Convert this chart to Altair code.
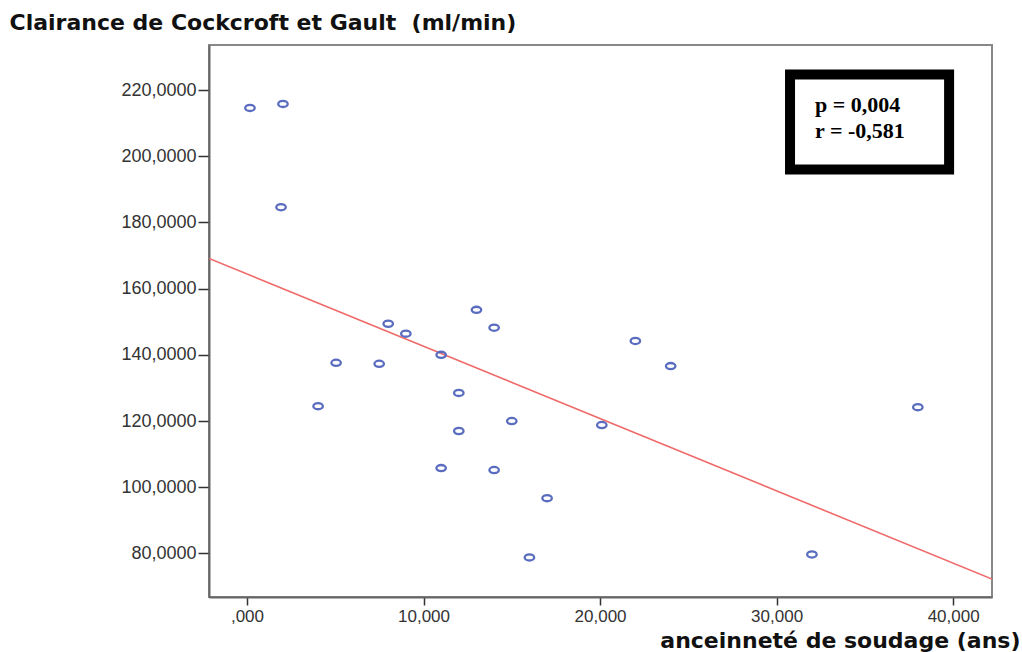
import altair as alt
import pandas as pd

# Data
anciennete = [0.17, 2.04, 1.93, 4.03, 5.05, 7.49, 8.0, 9.0, 11.0, 13.0, 14.0, 12.0,
              12.0, 11.0, 14.0, 15.0, 17.0, 16.0, 20.1, 22.0, 24.0, 32.0, 38.0]
clairance = [214.6, 215.8, 184.6, 124.5, 137.6, 137.3, 149.4, 146.4, 140.0, 153.6,
             148.2, 128.5, 117.0, 105.8, 105.2, 120.0, 96.7, 78.8, 118.8, 144.2,
             136.6, 79.7, 124.2]
x_ticks = [0, 10, 20, 30, 40]
y_ticks = [80, 100, 120, 140, 160, 180, 200, 220]
stats_lines = ["p = 0,004", "r = -0,581"]

# annotation box (data coordinates)
box_x = [30.76]
box_x2 = [39.77]
box_y = [224.7]
box_y2 = [195.96]
text_x = [32.18, 32.18]
text_y = [213.3, 205.4]

X_DOMAIN = [-2.15, 42.2]
Y_DOMAIN = [66.85, 233.6]

df = pd.DataFrame({"x": anciennete, "y": clairance})
box_df = pd.DataFrame({"x": box_x, "x2": box_x2, "y": box_y, "y2": box_y2})
txt_df = pd.DataFrame({"x": text_x, "y": text_y, "label": stats_lines})

xscale = alt.Scale(domain=X_DOMAIN, nice=False, zero=False)
yscale = alt.Scale(domain=Y_DOMAIN, nice=False, zero=False)

x_axis = alt.Axis(
    values=x_ticks,
    labelExpr="datum.value == 0 ? ',000' : replace(format(datum.value, '.3f'), '.', ',')",
    labelFont="Liberation Sans", labelFontSize=17, labelColor="#333",
    labelPadding=3,
    tickSize=8, tickColor="#333", tickWidth=1.5,
    domainColor="#666", domainWidth=2, grid=False,
    title="anceinneté de soudage (ans)",
    titleFont="DejaVu Sans", titleFontWeight="bold", titleFontSize=22,
    titleColor="#111", titleX=811, titleY=50, titleAlign="right",
    titleBaseline="alphabetic", titleAnchor="end",
)
y_axis = alt.Axis(
    values=y_ticks,
    labelExpr="replace(format(datum.value, '.4f'), '.', ',')",
    labelFont="Liberation Sans", labelFontSize=18, labelColor="#333",
    labelPadding=2,
    tickSize=11, tickColor="#333", tickWidth=1.5,
    domainColor="#666", domainWidth=2, grid=False,
    title="Clairance de Cockcroft et Gault\u00a0 (ml/min)",
    titleFont="DejaVu Sans", titleFontWeight="bold", titleFontSize=22,
    titleColor="#111", titleAngle=0, titleX=-200, titleY=-16,
    titleAlign="left", titleBaseline="alphabetic",
)

X = alt.X("x:Q", scale=xscale, axis=x_axis)
Y = alt.Y("y:Q", scale=yscale, axis=y_axis)

base = alt.Chart(df)

reg = base.transform_regression("x", "y", extent=X_DOMAIN).mark_line(
    color="#f06a6a", strokeWidth=1.6, clip=True
).encode(x=X, y=Y)

points = base.mark_point(
    shape="M -1 0 A 1 0.65 0 1 0 1 0 A 1 0.65 0 1 0 -1 0 Z",
    filled=False, size=90, strokeWidth=2.3, color="#5a6cbf", opacity=1
).encode(x=X, y=Y)

box = alt.Chart(box_df).mark_rect(
    fill="white", stroke="black", strokeWidth=10
).encode(x=X, x2="x2:Q", y=Y, y2="y2:Q")

text = alt.Chart(txt_df).mark_text(
    align="left", baseline="alphabetic", font="Liberation Serif",
    fontWeight="bold", fontSize=22, color="black"
).encode(x=X, y=Y, text="label:N")

chart = alt.layer(reg, points, box, text).properties(
    width=783, height=552,
    padding={"left": 209, "top": 45, "right": 30, "bottom": 55},
    autosize=alt.AutoSizeParams(type="none"),
    background="white",
).configure_view(stroke="#888", strokeWidth=2)

chart.save("out.html", embed_options={"renderer": "svg", "actions": False})
